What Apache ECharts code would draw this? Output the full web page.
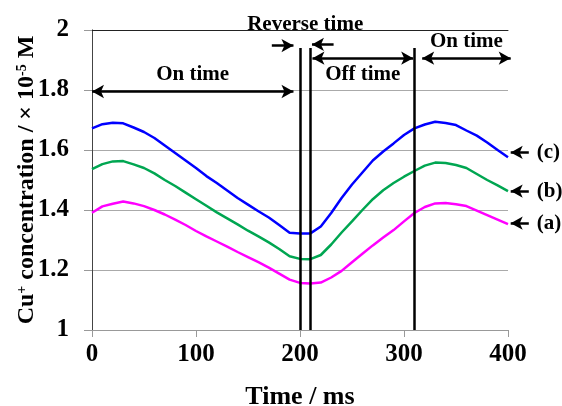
<!DOCTYPE html>
<html>
<head>
<meta charset="utf-8">
<script src="https://cdn.jsdelivr.net/npm/echarts@6/dist/echarts.min.js"></script>
<style>
  html, body { margin: 0; padding: 0; background: #fff; }
  #chart { width: 562px; height: 406px; }
</style>
</head>
<body>
<div id="chart"></div>
<script>
  // time axis, ms
  const times = [0,10,20,30,40,50,60,70,80,90,100,110,120,130,140,150,160,170,180,190,200,
    210,220,230,240,250,260,270,280,290,300,310,320,330,340,350,360,370,380,390,400];
  // Cu+ concentration, x 10^-5 M
  const curveC = [1.672,1.686,1.691,1.689,1.675,1.660,1.640,1.615,1.590,1.565,1.540,1.513,1.490,1.465,1.440,1.418,1.396,1.375,1.350,1.324,1.322,
    1.322,1.345,1.390,1.440,1.485,1.525,1.565,1.595,1.622,1.650,1.672,1.685,1.694,1.690,1.683,1.665,1.648,1.625,1.600,1.576];
  const curveB = [1.536,1.553,1.562,1.563,1.552,1.540,1.522,1.500,1.480,1.458,1.436,1.414,1.392,1.372,1.352,1.331,1.312,1.292,1.270,1.246,1.237,
    1.236,1.250,1.285,1.325,1.362,1.400,1.436,1.466,1.490,1.511,1.530,1.548,1.558,1.557,1.550,1.540,1.520,1.500,1.482,1.463];
  const curveA = [1.391,1.412,1.421,1.428,1.422,1.413,1.400,1.385,1.368,1.350,1.330,1.312,1.295,1.278,1.260,1.243,1.226,1.208,1.188,1.168,1.157,
    1.155,1.158,1.175,1.197,1.226,1.254,1.282,1.308,1.333,1.362,1.390,1.410,1.422,1.423,1.419,1.413,1.398,1.383,1.368,1.353];

  // pulse boundaries (ms)
  const switchTimes = [200, 210, 310];
  const switchTop = 1.94;

  // period arrows: [x1, x2, y, text, label side]
  const periodArrows = [
    [0, 193.7, 1.795, 'On time', 'insideMiddleTop'],
    [212, 308.8, 1.906, 'Off time', 'insideMiddleBottom'],
    [317.5, 402.6, 1.906, 'On time', 'insideMiddleTop']
  ];
  // reverse time pointer arrows: [from x, to x, y]
  const reverseArrows = [[172.9, 193.7, 1.948], [232.3, 211.5, 1.952]];
  const reverseLabel = { text: 'Reverse time', x: 205, y: 2.0 };

  // curve labels at right: [from x, to x, y, text]
  const curveLabels = [[420, 402.6, 1.592, '(c)'], [420, 402.6, 1.463, '(b)'], [420, 402.6, 1.356, '(a)']];

  const font = 'Liberation Serif';
  const pair = arr => times.map((t, i) => [t, arr[i]]);

  const chart = echarts.init(document.getElementById('chart'));

  const lineSeries = (name, data, color) => ({
    name: name,
    type: 'line',
    data: pair(data),
    symbol: 'none',
    lineStyle: { color: color, width: 2.5 },
    itemStyle: { color: color },
    z: 3
  });

  const option = {
    animation: false,
    backgroundColor: '#fff',
    textStyle: { fontFamily: font },
    grid: { left: 92, right: 54, top: 30, bottom: 76, outerBoundsMode: 'none' },
    xAxis: [{
      type: 'value',
      min: 0, max: 400, interval: 100,
      name: 'Time / ms',
      nameLocation: 'middle',
      nameGap: 54,
      nameMoveOverlap: false,
      nameTextStyle: { fontFamily: font, fontWeight: 'bold', fontSize: 26, color: '#000' },
      axisLine: { lineStyle: { color: '#999', width: 1 } },
      axisTick: { show: true, length: 7, lineStyle: { color: '#999' } },
      axisLabel: { fontFamily: font, fontWeight: 'bold', fontSize: 25, color: '#000', margin: 12 },
      splitLine: { show: false }
    }, {
      type: 'value', position: 'top', min: 0, max: 400,
      axisLine: { show: true, lineStyle: { color: '#222', width: 1 } },
      axisTick: { show: false }, axisLabel: { show: false }, splitLine: { show: false }
    }],
    yAxis: [{
      type: 'value',
      min: 1, max: 2, interval: 0.2,
      name: '{a|Cu}{s|+}{a| concentration / × 10}{s|-5}{a| M}',
      nameLocation: 'middle',
      nameGap: 53,
      nameMoveOverlap: false,
      nameTextStyle: {
        color: '#000',
        rich: {
          a: { fontFamily: font, fontWeight: 'bold', fontSize: 24, color: '#000' },
          s: { fontFamily: font, fontWeight: 'bold', fontSize: 14, color: '#000', verticalAlign: 'top' }
        }
      },
      axisLine: { show: true, lineStyle: { color: '#999', width: 1 } },
      axisTick: { show: true, length: 8, lineStyle: { color: '#999' } },
      axisLabel: {
        fontFamily: font, fontWeight: 'bold', fontSize: 25, color: '#000', margin: 23,
        formatter: v => String(+v.toFixed(1))
      },
      splitLine: { lineStyle: { color: '#aaa', width: 1 } }
    }, {
      type: 'value', position: 'right', min: 1, max: 2,
      axisLine: { show: true, lineStyle: { color: '#444', width: 1 } },
      axisTick: { show: false }, axisLabel: { show: false }, splitLine: { show: false }
    }],
    series: [
      lineSeries('(c)', curveC, '#0000ff'),
      lineSeries('(b)', curveB, '#00a651'),
      lineSeries('(a)', curveA, '#ff00ff')
    ]
  };

  chart.setOption(option);

  // annotations: positions taken from the axes' own scales, so marks that sit
  // right of x=400 are not filtered out by the marker range check
  const px = (x, y) => chart.convertToPixel({ xAxisIndex: 0, yAxisIndex: 0 }, [x, y]);
  const end = (x, y, extra) => {
    const p = px(x, y);
    return Object.assign({ x: p[0], y: p[1] }, extra || {});
  };

  const annoMarkLines = [];
  switchTimes.forEach(t => {
    annoMarkLines.push([end(t, switchTop, { symbol: 'none' }), end(t, 1, { symbol: 'none' })]);
  });
  periodArrows.forEach(p => {
    annoMarkLines.push([
      end(p[0], p[2], { symbol: 'arrow', label: { show: true, position: p[4], formatter: p[3], distance: 6 } }),
      end(p[1], p[2], { symbol: 'arrow' })
    ]);
  });
  reverseArrows.forEach(r => {
    annoMarkLines.push([end(r[0], r[2], { symbol: 'none' }), end(r[1], r[2], { symbol: 'arrow' })]);
  });
  curveLabels.forEach(c => {
    annoMarkLines.push([
      end(c[0], c[2], { symbol: 'none', label: { show: true, position: 'start', formatter: c[3], distance: 8, fontSize: 21 } }),
      end(c[1], c[2], { symbol: 'arrow' })
    ]);
  });

  chart.setOption({
    series: [{}, {}, {}, {
      name: 'annotations',
      type: 'line',
      data: [],
      silent: true,
      markLine: {
        silent: true,
        animation: false,
        symbolSize: [10, 12],
        lineStyle: { color: '#000', width: 2.5, type: 'solid' },
        label: { show: false, color: '#000', fontFamily: font, fontWeight: 'bold', fontSize: 21 },
        data: annoMarkLines
      },
      markPoint: {
        silent: true,
        symbol: 'circle',
        symbolSize: 0,
        label: {
          show: true, position: 'top', distance: 0, offset: [0, 5],
          color: '#000', fontFamily: font, fontWeight: 'bold', fontSize: 21,
          formatter: reverseLabel.text
        },
        data: [{ coord: [reverseLabel.x, reverseLabel.y] }]
      }
    }]
  });
</script>
</body>
</html>
